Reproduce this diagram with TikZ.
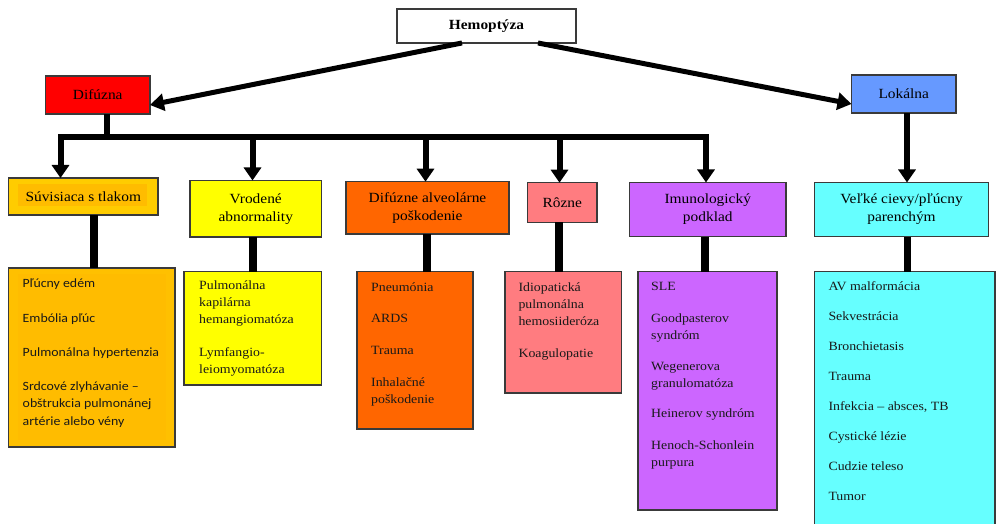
\documentclass[tikz,border=0pt]{standalone}
\usepackage{fontspec}
\setmainfont{Liberation Serif}[FakeStretch=1.1]
\newfontfamily\calibrifam{Carlito}[FakeStretch=1.1]
\usetikzlibrary{arrows.meta,calc}
\definecolor{bordc}{HTML}{3A3A3A}
\definecolor{cred}{HTML}{FF0000}
\definecolor{cblue}{HTML}{6699FF}
\definecolor{cgoldh}{HTML}{FFCC00}
\definecolor{cgold}{HTML}{FFC000}
\definecolor{cband}{HTML}{FFBC00}
\definecolor{cyel}{HTML}{FFFF00}
\definecolor{corg}{HTML}{FF6600}
\definecolor{cpink}{HTML}{FF7C80}
\definecolor{cpurp}{HTML}{CC66FF}
\definecolor{ccyan}{HTML}{66FFFF}
\newcommand\hdfont{\fontsize{14}{18}\selectfont}
\newcommand\itfont{\fontsize{12.6}{17}\selectfont}
\newcommand\calfont{\calibrifam\fontsize{12.6}{17}\selectfont}
\tikzset{
  box/.style={draw=bordc, line width=1.2pt, inner sep=0pt, outer sep=0pt, font=\hdfont, align=center, text=black},
  itm/.style={font=\itfont, anchor=base west, inner sep=0pt, text=black!90},
  citm/.style={font=\calfont, anchor=base west, inner sep=0pt, text=black!90},
  arr/.style={line width=5pt, -{Triangle[length=14pt,width=17pt]}},
  busarr/.style={line width=6pt, line join=miter, -{Triangle[length=13pt,width=17pt]}},
  stemline/.style={line width=7.5pt},
}
\begin{document}
\begin{tikzpicture}[x=1pt,y=-1pt]
\useasboundingbox (0,0) rectangle (996,524);
\clip (0,0) rectangle (996,524);
% top level
\node[box, fill=white, minimum width=179pt, minimum height=34pt, font=\hdfont\bfseries] (hem) at (486.5,26) {Hemoptýza};
\node[box, fill=cred, minimum width=104.5pt, minimum height=38pt] (dif) at (97.75,95) {Difúzna};
\node[box, fill=cblue, minimum width=104.5pt, minimum height=38pt] (lok) at (903.75,94) {Lokálna};
% headings
\node[box, fill=cgoldh, minimum width=149.5pt, minimum height=37pt] (s1) at (83.25,196.5) {};
\fill[cband] (18,184) rectangle (147,206);
\node[font=\hdfont, inner sep=0pt] (s1t) at (s1.center) {Súvisiaca s tlakom};
\node[box, fill=cyel, minimum width=131.5pt, minimum height=56.5pt] (s2) at (255.75,208.75) {Vrodené\\abnormality};
\node[box, fill=corg, minimum width=163pt, minimum height=52.3pt] (s3) at (427.5,207.85) {Difúzne alveolárne\\poškodenie};
\node[box, fill=cpink, minimum width=69.5pt, minimum height=39.6pt] (s4) at (562.25,202.5) {Rôzne};
\node[box, fill=cpurp, minimum width=156.5pt, minimum height=54pt] (s5) at (707.75,209.5) {Imunologický\\podklad};
\node[box, fill=ccyan, minimum width=174pt, minimum height=54pt] (s6) at (901.5,209.5) {Veľké cievy/pľúcny\\parenchým};
% detail boxes
\node[box, fill=cgold, minimum width=166.5pt, minimum height=179pt] (d1) at (91.75,357.5) {};
\fill[cband] (18,274) rectangle (166,440);
\node[box, fill=cyel, minimum width=137.5pt, minimum height=113.5pt] (d2) at (252.75,328.25) {};
\node[box, fill=corg, minimum width=116pt, minimum height=157.5pt] (d3) at (415,350.25) {};
\node[box, fill=cpink, minimum width=116.5pt, minimum height=121.5pt] (d4) at (563.25,332.25) {};
\node[box, fill=cpurp, minimum width=139pt, minimum height=238.5pt] (d5) at (707.5,390.75) {};
\node[box, fill=ccyan, minimum width=180.5pt, minimum height=268.5pt] (d6) at (904.75,405.75) {};
% detail texts
\node[citm] (t1a) at (22.5,287.7) {Pľúcny edém};
\node[citm] (t1b) at (22.5,322.7) {Embólia pľúc};
\node[citm] (t1c) at (22.5,356.7) {Pulmonálna hypertenzia};
\node[citm] (t1d) at (22.5,390.3) {Srdcové zlyhávanie –};
\node[citm] (t1e) at (22.5,407.8) {obštrukcia pulmonánej};
\node[citm] (t1f) at (22.5,425.3) {artérie alebo vény};
\node[itm] (t2a) at (199,289.3) {Pulmonálna};
\node[itm] (t2b) at (199,306.3) {kapilárna};
\node[itm] (t2c) at (199,323.3) {hemangiomatóza};
\node[itm] (t2d) at (199,356) {Lymfangio-};
\node[itm] (t2e) at (199,373) {leiomyomatóza};
\node[itm] (t3a) at (371,291.7) {Pneumónia};
\node[itm] (t3b) at (371,322.7) {ARDS};
\node[itm] (t3c) at (371,354.3) {Trauma};
\node[itm] (t3d) at (371,386) {Inhalačné};
\node[itm] (t3e) at (371,403) {poškodenie};
\node[itm] (t4a) at (518.3,291.7) {Idiopatická};
\node[itm] (t4b) at (518.3,308.7) {pulmonálna};
\node[itm] (t4c) at (518.3,325.7) {hemosiideróza};
\node[itm] (t4d) at (518.3,357.7) {Koagulopatie};
\node[itm] (t5a) at (651,290.7) {SLE};
\node[itm] (t5b) at (651,322.5) {Goodpasterov};
\node[itm] (t5c) at (651,339.5) {syndróm};
\node[itm] (t5d) at (651,370.5) {Wegenerova};
\node[itm] (t5e) at (651,387.5) {granulomatóza};
\node[itm] (t5f) at (651,417.5) {Heinerov syndróm};
\node[itm] (t5g) at (651,449.5) {Henoch-Schonlein};
\node[itm] (t5h) at (651,466.5) {purpura};
\node[itm] (t6a) at (828.3,290.7) {AV malformácia};
\node[itm] (t6b) at (828.3,320.7) {Sekvestrácia};
\node[itm] (t6c) at (828.3,350.7) {Bronchietasis};
\node[itm] (t6d) at (828.3,380.7) {Trauma};
\node[itm] (t6e) at (828.3,410.7) {Infekcia – absces, TB};
\node[itm] (t6f) at (828.3,440.7) {Cystické lézie};
\node[itm] (t6g) at (828.3,470.7) {Cudzie teleso};
\node[itm] (t6h) at (828.3,500.7) {Tumor};
% connectors
\draw[arr] ([xshift=-24.5pt]hem.south) -- ([yshift=-10pt]dif.east);
\draw[arr] ([xshift=51.5pt]hem.south) -- ([yshift=-10pt]lok.west);
\coordinate (jd) at (107,137);
\coordinate (j1) at (60.5,137);
\coordinate (j2) at (252.5,137);
\coordinate (j3) at (425.5,137);
\coordinate (j4) at (559.5,137);
\coordinate (j5) at (706,137);
\draw[line width=6.5pt] ([xshift=9.25pt]dif.south) -- (jd);
\draw[busarr] (j3) -- (j1) -- (j1 |- s1.north);
\draw[busarr] (j3) -- (j5) -- (j5 |- s5.north);
\draw[busarr] (j2) -- (j2 |- s2.north);
\draw[busarr] (j3) -- (j3 |- s3.north);
\draw[busarr] (j4) -- (j4 |- s4.north);
\draw[busarr] ([xshift=3.25pt]lok.south) -- ([xshift=3.25pt]lok.south |- s6.north);
% stems
\draw[stemline] ([xshift=10.75pt]s1.south) -- ([xshift=10.75pt]s1.south |- d1.north);
\draw[stemline] ([xshift=-2.75pt]s2.south) -- ([xshift=-2.75pt]s2.south |- d2.north);
\draw[stemline] ([xshift=-0.5pt]s3.south) -- ([xshift=-0.5pt]s3.south |- d3.north);
\draw[stemline] ([xshift=-3.25pt]s4.south) -- ([xshift=-3.25pt]s4.south |- d4.north);
\draw[stemline] ([xshift=-2.75pt]s5.south) -- ([xshift=-2.75pt]s5.south |- d5.north);
\draw[stemline] ([xshift=6pt]s6.south) -- ([xshift=6pt]s6.south |- d6.north);
\end{tikzpicture}
\end{document}
